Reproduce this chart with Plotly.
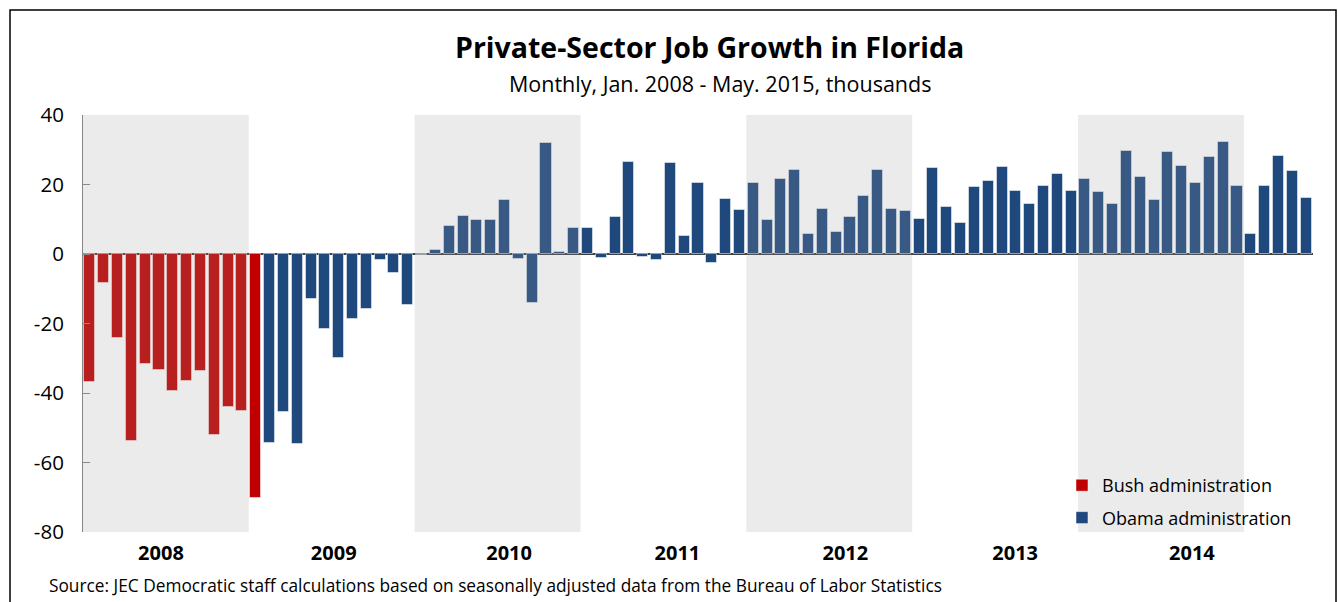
import numpy as np
import pandas as pd
import plotly.graph_objects as go

# ---------------- data ----------------
months = [d.strftime("%b %Y") for d in pd.date_range("2008-01-01", "2015-05-01", freq="MS")]
obama_start = "Feb 2009"

bush_values = [-36.7, -8.2, -24.1, -53.7, -31.6, -33.3, -39.3, -36.5, -33.6, -52.0, -43.9, -45.1, -70.1]
obama_values = [
    -54.3, -45.4, -54.7, -13.0, -21.7, -29.8, -18.6, -15.8, -1.7, -5.4, -14.7,          # 2009 (Feb-Dec)
    -0.4, 1.2, 8.2, 10.9, 9.8, 9.8, 15.5, -1.5, -14.0, 31.8, 0.6, 7.4,                    # 2010
    7.6, -1.2, 10.6, 26.4, -0.9, -1.7, 26.2, 5.1, 20.3, -2.5, 15.9, 12.6,                 # 2011
    20.4, 9.8, 21.6, 24.3, 5.8, 12.9, 6.3, 10.6, 16.6, 24.1, 12.9, 12.4,                  # 2012
    10.2, 24.8, 13.4, 8.9, 19.2, 21.0, 24.9, 18.2, 14.3, 19.6, 23.0, 18.1,                # 2013
    21.5, 17.8, 14.3, 29.5, 22.2, 15.6, 29.4, 25.2, 20.3, 28.0, 32.3, 19.6,               # 2014
    5.7, 19.5, 28.1, 23.8, 16.2,                                                          # 2015
]
year_labels = ["2008", "2009", "2010", "2011", "2012", "2013", "2014"]
shaded_years = ["2008", "2010", "2012", "2014"]
y_ticks = [-80, -60, -40, -20, 0, 20, 40]
y_tick_text = ["-80", "-60", "-40", "-20", "0", "20", "40"]

# ---------------- layout constants ----------------
W, H = 1338, 602
ML, MR, MT, MB = 83, 25, 115, 70
PW, PH = W - ML - MR, H - MT - MB
# horizontal nudge of each year label from its band centre (in months), as in the original
YEAR_LABEL_NUDGE = [-0.36, 0.14, 0.83, 1.01, 1.16, 1.45, 2.24]

def px_x(p):
    return (p - ML) / PW

def px_y(p):
    return (H - MB - p) / PH

FONT = "Open Sans"
BUSH_COLOR = "#c00000"
OBAMA_COLOR = "#1f497d"

idx = np.arange(len(months))
split = months.index(obama_start)
bush_x = idx[:split]
obama_x = idx[split:]

fig = go.Figure()
fig.add_trace(go.Bar(
    x=bush_x, y=bush_values, name="Bush administration",
    marker=dict(color=BUSH_COLOR, line=dict(color="rgba(255,255,255,0.5)", width=1)),
    width=0.8, legendgroup="b", customdata=months[:split],
    hovertemplate="%{customdata}: %{y}<extra></extra>",
))
fig.add_trace(go.Bar(
    x=obama_x, y=obama_values, name="Obama administration",
    marker=dict(color=OBAMA_COLOR, line=dict(color="rgba(255,255,255,0.5)", width=1)),
    width=0.8, legendgroup="o", customdata=months[split:],
    hovertemplate="%{customdata}: %{y}<extra></extra>",
))

year_start = {y: months.index("Jan " + y) for y in year_labels}
tickvals = [year_start[y] + 5.5 + n for y, n in zip(year_labels, YEAR_LABEL_NUDGE)]

shapes = []
for y in shaded_years:
    s = year_start[y]
    shapes.append(dict(type="rect", xref="x", yref="y", x0=s - 0.5, x1=s + 11.5, y0=-80, y1=40,
                       fillcolor="rgba(157,157,157,0.2)", line=dict(width=0), layer="above"))
# outer frame
shapes.append(dict(type="rect", xref="paper", yref="paper",
                   x0=px_x(10), x1=px_x(1336), y0=px_y(612), y1=px_y(10),
                   line=dict(color="#000000", width=1.5), fillcolor="rgba(0,0,0,0)", layer="below"))

annotations = [
    dict(text="<b>Private-Sector Job Growth in Florida</b>", xref="paper", yref="paper",
         x=px_x(709), y=px_y(47), xanchor="center", yanchor="middle", showarrow=False,
         font=dict(family=FONT, size=28.5, color="#000000")),
    dict(text="Monthly, Jan. 2008 - May. 2015, thousands", xref="paper", yref="paper",
         x=px_x(720), y=px_y(83), xanchor="center", yanchor="middle", showarrow=False,
         font=dict(family=FONT, size=21.5, color="#000000")),
    dict(text="Source: JEC Democratic staff calculations based on seasonally adjusted data from the Bureau of Labor Statistics",
         xref="paper", yref="paper", x=px_x(47), y=px_y(585), xanchor="left", yanchor="middle",
         showarrow=False, font=dict(family=FONT, size=17.3, color="#000000")),
]

fig.update_layout(
    width=W, height=H,
    margin=dict(l=ML, r=MR, t=MT, b=MB),
    paper_bgcolor="white", plot_bgcolor="white",
    barmode="relative", bargap=0,
    shapes=shapes, annotations=annotations,
    font=dict(family=FONT, color="#000000"),
    showlegend=True,
    legend=dict(x=px_x(1062), y=px_y(467), xanchor="left", yanchor="top",
                bgcolor="rgba(0,0,0,0)", borderwidth=0,
                font=dict(family=FONT, size=18, color="#000000"),
                tracegroupgap=6, traceorder="grouped"),
    xaxis=dict(range=[-0.5, len(months) - 0.5], showgrid=False, zeroline=False, showline=False,
               tickmode="array", tickvals=tickvals, ticktext=["<b>%s</b>" % y for y in year_labels],
               ticks="", tickfont=dict(family=FONT, size=20, color="#000000"), ticklabelstandoff=7),
    yaxis=dict(range=[-80, 40], tickmode="array", tickvals=y_ticks, ticktext=y_tick_text,
               showgrid=False, showline=True, linecolor="#868686", linewidth=1,
               ticks="inside", ticklen=7, tickcolor="#868686",
               zeroline=True, zerolinecolor="#404040", zerolinewidth=1.5,
               tickfont=dict(family=FONT, size=20.5, color="#000000"), ticklabelstandoff=14),
)

fig.write_html("out.html", config={"displayModeBar": False},
               post_script="document.body.style.margin='0px';")
